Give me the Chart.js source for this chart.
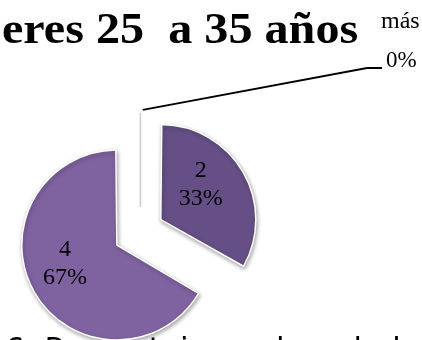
<!DOCTYPE html>
<html lang="es">
<head>
<meta charset="utf-8">
<title>Mujeres 25 a 35 años</title>
<script src="https://cdn.jsdelivr.net/npm/chart.js@4.4.1/dist/chart.umd.min.js"></script>
<style>
  html, body { margin: 0; padding: 0; background: #fff; }
  #wrap { position: relative; width: 422px; height: 340px; overflow: hidden; }
</style>
</head>
<body>
<div id="wrap"><canvas id="pieChart" width="422" height="340"></canvas></div>
<script>
// pie data
const categories = ['más', 'dos', 'cuatro'];
const values = [0, 2, 4];
const sliceColors = ['#ffffff', '#654f86', '#7f63a1'];
const titleText = 'eres 25  a 35 años';
const captionText = '6. Porcentaje  en la  edad de la';

const total = values.reduce((a, b) => a + b, 0);
const percents = values.map(v => Math.round(v / total * 100) + '%');

const PIE_RADIUS = 89;
// how far each slice is pulled out, in px (v4 moves an arc by offset / 4).
// a wide slice also grows by its pull, so the big one gets only a little.
const pullPx = [0, 44.8, 6];
const sliceOffsets = pullPx.map(p => p * 4);

// soft drop shadow under the slices
const shadowPlugin = {
    id: 'sliceShadow',
    beforeDatasetsDraw(chart) {
        const ctx = chart.ctx;
        ctx.save();
        ctx.shadowColor = 'rgba(0, 0, 0, 0.35)';
        ctx.shadowBlur = 4;
        ctx.shadowOffsetX = 1;
        ctx.shadowOffsetY = 2;
    },
    afterDatasetsDraw(chart) {
        chart.ctx.restore();
    }
};

// tip of a slice after it has been pulled out
function sliceTip(arc, i) {
    const mid = (arc.startAngle + arc.endAngle) / 2;
    return {
        x: arc.x + Math.cos(mid) * pullPx[i],
        y: arc.y + Math.sin(mid) * pullPx[i],
        mid: mid
    };
}

// title, slice labels, the empty slice and its callout
const annotatePlugin = {
    id: 'annotate',
    afterDraw(chart) {
        const ctx = chart.ctx;
        const arcs = chart.getDatasetMeta(0).data;

        ctx.save();

        // title, set a little wide
        ctx.fillStyle = '#000';
        ctx.textAlign = 'left';
        ctx.textBaseline = 'alphabetic';
        ctx.font = 'bold 45px "Liberation Serif"';
        ctx.save();
        ctx.translate(2, 43);
        ctx.scale(1.07, 1);
        ctx.fillText(titleText, 0, 0);
        ctx.restore();

        // value + percent inside the visible slices
        ctx.font = '24px "Liberation Serif"';
        ctx.textAlign = 'center';
        ctx.textBaseline = 'middle';
        const labelR = 53;
        arcs.forEach((arc, i) => {
            if (!values[i]) return;
            const tip = sliceTip(arc, i);
            const x = tip.x + Math.cos(tip.mid) * labelR - 6;
            const y = tip.y + Math.sin(tip.mid) * labelR - 9;
            ctx.fillText(String(values[i]), x, y - 13);
            ctx.fillText(percents[i], x, y + 15);
        });

        // the zero slice sits on its own, pulled straight up from
        // the point halfway between the other two tips
        const t1 = sliceTip(arcs[1], 1);
        const t2 = sliceTip(arcs[2], 2);
        const cx = (t1.x + t2.x) / 2;
        const cy = (t1.y + t2.y) / 2;
        const pull0 = Math.hypot(t1.x - t2.x, t1.y - t2.y) / 2;
        const ang0 = arcs[0].startAngle;
        const bx = cx + Math.cos(ang0) * pull0;
        const by = cy + Math.sin(ang0) * pull0;
        const tx = bx + Math.cos(ang0) * (PIE_RADIUS + 5);
        const ty = by + Math.sin(ang0) * (PIE_RADIUS + 5);
        ctx.lineCap = 'butt';
        ctx.strokeStyle = 'rgba(120, 120, 120, 0.35)';
        ctx.lineWidth = 3;
        ctx.beginPath();
        ctx.moveTo(bx + 1, by);
        ctx.lineTo(tx + 1, ty);
        ctx.stroke();
        ctx.strokeStyle = '#ffffff';
        ctx.lineWidth = 1.5;
        ctx.beginPath();
        ctx.moveTo(bx, by);
        ctx.lineTo(tx, ty);
        ctx.stroke();

        // callout line to the label
        ctx.strokeStyle = '#000';
        ctx.lineWidth = 1.8;
        ctx.beginPath();
        ctx.moveTo(tx + 4, ty - 3);
        ctx.lineTo(367, 68);
        ctx.lineTo(382, 68);
        ctx.stroke();

        ctx.textAlign = 'left';
        ctx.textBaseline = 'alphabetic';
        ctx.font = '24px "Liberation Serif"';
        ctx.fillText(categories[0], 381, 28);
        ctx.font = '23px "Liberation Serif"';
        ctx.fillText(percents[0], 386, 67);

        // figure caption, running off the bottom edge
        ctx.font = '31px "DejaVu Sans"';
        ctx.fillText(captionText, 5, 359);

        ctx.restore();
    }
};

const ctx = document.getElementById('pieChart').getContext('2d');
const pieChart = new Chart(ctx, {
    type: 'pie',
    data: {
        labels: categories,
        datasets: [{
            data: values,
            backgroundColor: sliceColors,
            borderColor: '#ffffff',
            borderWidth: 1.5,
            offset: sliceOffsets,
            radius: PIE_RADIUS,
            clip: false
        }]
    },
    options: {
        responsive: false,
        animation: false,
        events: [],
        cutout: '0%',
        layout: {
            padding: { left: 0, right: 178, top: 144, bottom: 0 }
        },
        plugins: {
            legend: { display: false },
            tooltip: { enabled: false }
        }
    },
    plugins: [shadowPlugin, annotatePlugin]
});
</script>
</body>
</html>
